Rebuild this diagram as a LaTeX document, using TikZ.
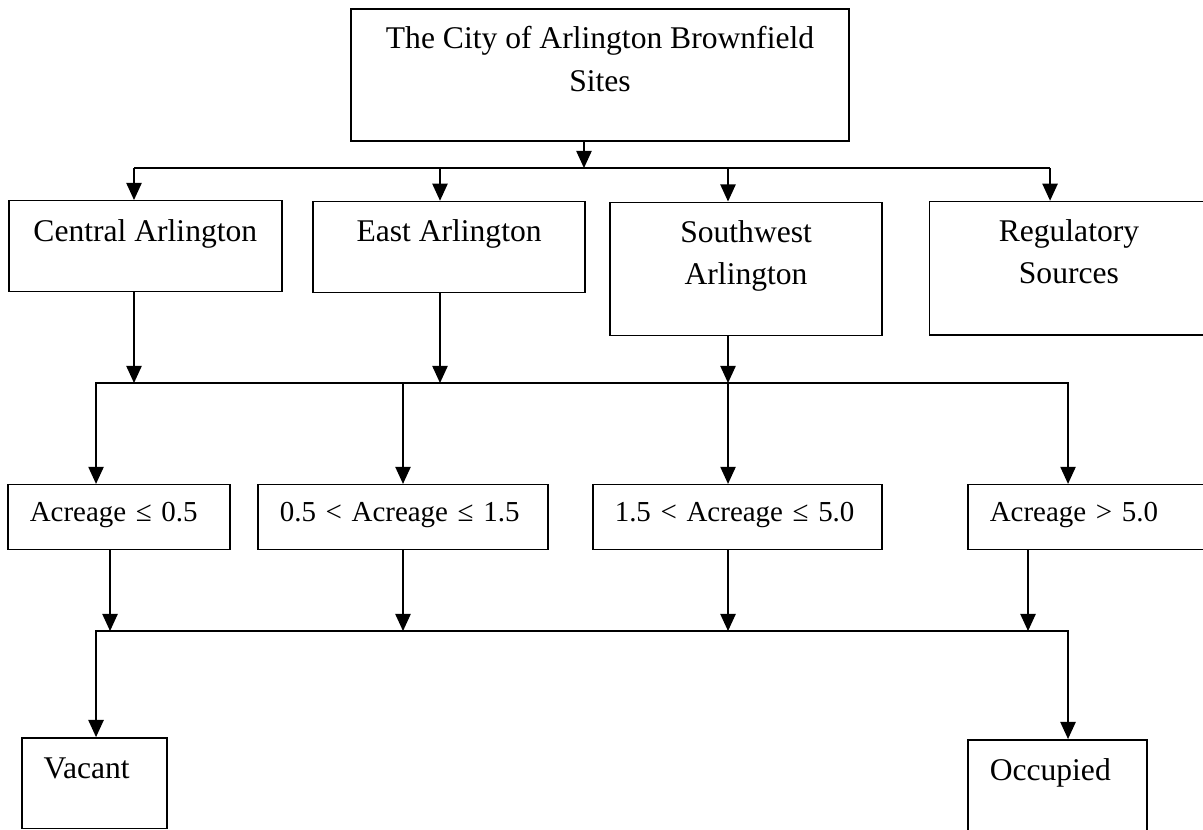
\documentclass[tikz,border=0pt]{standalone}
\usepackage{fontspec}
\setmainfont{Liberation Serif}
\usetikzlibrary{arrows.meta,positioning,calc}

\begin{document}
\begin{tikzpicture}[
    >={Triangle[length=6.5pt,width=5.8pt]},
    box/.style={draw, line width=0.55pt, anchor=north, inner sep=0pt, font=\fontsize{12}{16}\selectfont},
    cbox/.style n args={3}{box, align=center, minimum width=#1, text height=#2, text depth=#3},
    lbox/.style n args={3}{box, align=left, inner xsep=0.29cm, text width=#1, text height=#2, text depth=#3},
    small/.style={font=\fontsize{11}{14}\selectfont},
    wire/.style={line width=0.6pt},
    link/.style={->, line width=0.6pt}
]
\useasboundingbox (0,0) rectangle (16.06,-11.07);

% Top level
\node[cbox={6.65cm}{1.095cm}{0.665cm}] (city) at (8.01,-0.11) {The City of Arlington Brownfield\\Sites};

% Regions
\node[cbox={3.645cm}{0.547cm}{0.668cm}] (central) at (1.94,-2.67) {Central Arlington};
\node[cbox={3.63cm}{0.53cm}{0.685cm}] (east) at (5.995,-2.68) {East Arlington};
\node[cbox={3.63cm}{1.095cm}{0.685cm}] (southwest) at (9.96,-2.69) {Southwest\\Arlington};
\node[cbox={3.72cm}{1.095cm}{0.685cm}] (regulatory) at (14.27,-2.68) {Regulatory\\Sources};

% Acreage classes
\node[lbox={2.385cm}{0.494cm}{0.374cm}, small] (acre1) at (1.59,-6.46) {Acreage ≤ 0.5};
\node[lbox={3.29cm}{0.494cm}{0.374cm}, small] (acre2) at (5.38,-6.46) {0.5 < Acreage ≤ 1.5};
\node[lbox={3.278cm}{0.494cm}{0.374cm}, small] (acre3) at (9.846,-6.46) {1.5 < Acreage ≤ 5.0};
\node[lbox={2.72cm}{0.494cm}{0.374cm}, small] (acre4) at (14.573,-6.46) {Acreage > 5.0};

% Site status
\node[lbox={1.356cm}{0.547cm}{0.663cm}] (vacant) at (1.262,-9.84) {Vacant};
\node[lbox={1.81cm}{0.547cm}{0.9cm}] (occupied) at (14.118,-9.866) {Occupied};

% Bus junctions
\coordinate (b1) at (7.796,-2.243);
\foreach \n/\x in {central/1.789,east/5.874,southwest/9.719,regulatory/14.018}
  \coordinate (b1-\n) at (\x,-2.243);
\foreach \n/\x in {central/1.789,east/5.874,southwest/9.719}
  \coordinate (b2-\n) at (\x,-5.113);
\foreach \n/\x in {acre1/1.282,acre2/5.380,acre3/9.719,acre4/14.258}
  \coordinate (b2-\n) at (\x,-5.113);
\foreach \n/\x in {acre1/1.469,acre2/5.380,acre3/9.719,acre4/13.724}
  \coordinate (b3-\n) at (\x,-8.424);
\coordinate (b3w) at (1.282,-8.424);
\coordinate (b3e) at (14.258,-8.424);

% City to regions
\draw[link] (city.south -| b1) -- (b1);
\draw[wire] (b1-central) -- (b1-regulatory);
\foreach \n in {central,east,southwest,regulatory}
  \draw[link] (b1-\n) -- (b1-\n |- \n.north);

% Regions to acreage classes
\foreach \n in {central,east,southwest}
  \draw[link] (\n.south -| b2-\n) -- (b2-\n);
\draw[link] (b2-acre2) -| (b2-acre1 |- acre1.north);
\draw[link] (b2-acre3) -| (b2-acre4 |- acre4.north);
\draw[wire] (b2-acre2) -- (b2-acre3);
\foreach \n in {acre2,acre3}
  \draw[link] (b2-\n) -- (b2-\n |- \n.north);

% Acreage classes to site status
\foreach \n in {acre1,acre2,acre3,acre4}
  \draw[link] (\n.south -| b3-\n) -- (b3-\n);
\draw[link] (b3e) -- (b3w) -- (b3w |- vacant.north);
\draw[link] (b3w) -- (b3e) -- (b3e |- occupied.north);

\end{tikzpicture}
\end{document}
